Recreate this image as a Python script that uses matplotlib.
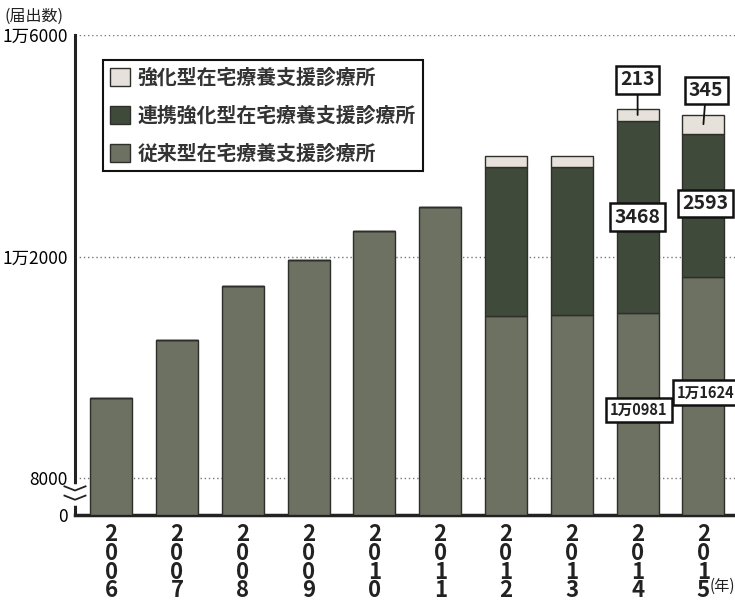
import matplotlib
matplotlib.use("Agg")
import matplotlib.pyplot as plt
from matplotlib.patches import Patch
import numpy as np

plt.rcParams['font.family'] = ['Noto Sans CJK JP', 'DejaVu Sans']

# data (届出数)
years = ['2006', '2007', '2008', '2009', '2010', '2011', '2012', '2013', '2014', '2015']
conventional = [9450, 10490, 11470, 11930, 12460, 12900, 10920, 10950, 10981, 11624]  # 従来型
renkei = [0, 0, 0, 0, 0, 0, 2690, 2660, 3468, 2593]  # 連携強化型
kyoka = [0, 0, 0, 0, 0, 0, 200, 200, 213, 345]  # 強化型
labels = ['強化型在宅療養支援診療所', '連携強化型在宅療養支援診療所', '従来型在宅療養支援診療所']
ytick_vals = [0, 8000, 12000, 16000]
ytick_labels = ['0', '8000', '1万2000', '1万6000']

c_conv = '#6c7162'
c_renkei = '#3f4a3a'
c_kyoka = '#e6e1da'
edge = '#2e2e2a'

# broken axis: 0-8000 squeezed
BRK = 8000
SQ = 668.0


def fwd(v):
    v = np.asarray(v, dtype=float)
    return np.where(v < BRK, v * SQ / BRK, v - BRK + SQ)


def inv(t):
    t = np.asarray(t, dtype=float)
    return np.where(t < SQ, t * BRK / SQ, t + BRK - SQ)


fig = plt.figure(figsize=(7.35, 6.04), dpi=100)
ax = fig.add_axes([75 / 735, 1 - 515 / 604, 1 - 75 / 735, 480 / 604])
ax.set_yscale('function', functions=(fwd, inv))
ax.set_ylim(0, 16000)
ax.set_xlim(-0.55, 9.48)

x = np.arange(len(years))
conv = np.array(conventional)
ren = np.array(renkei)
kyo = np.array(kyoka)
w = 0.64
ax.bar(x, conv, w, color=c_conv, edgecolor=edge, linewidth=1.0, zorder=3)
ax.bar(x, ren, w, bottom=conv, color=c_renkei, edgecolor=edge, linewidth=1.0, zorder=3)
ax.bar(x, kyo, w, bottom=conv + ren, color=c_kyoka, edgecolor=edge, linewidth=1.0, zorder=3)

for v in [8000, 12000, 16000]:
    ax.axhline(v, color='#777777', linestyle=(0, (1, 2)), linewidth=1.0, zorder=1)

ax.set_yticks(ytick_vals)
ax.set_yticklabels(ytick_labels, fontsize=12.5)
ax.tick_params(axis='y', length=0, pad=5)
ax.set_xticks(x)
ax.set_xticklabels(['\n'.join(y) for y in years], fontsize=16, fontweight='bold',
                   linespacing=0.76, color='#222222')
ax.tick_params(axis='x', length=0, pad=6)

for s in ['top', 'right']:
    ax.spines[s].set_visible(False)
ax.spines['left'].set_linewidth(2.2)
ax.spines['bottom'].set_linewidth(2.5)
ax.spines['left'].set_color('#222222')
ax.spines['bottom'].set_color('#222222')

# break mark on y axis
bt = ax.get_yaxis_transform()
ax.plot([0, 0], [2500, 6000], color='white', linewidth=4, transform=bt, zorder=5, clip_on=False)
for yc in [3300, 5300]:
    ax.plot([-0.016, 0, 0.016], [yc + 900, yc, yc + 900], color='#222222', linewidth=1.3,
            transform=bt, zorder=6, clip_on=False)

# callouts
box = dict(boxstyle='square,pad=0.22', facecolor='white', edgecolor='#111111', linewidth=1.8)
num_font = dict(fontsize=14, fontweight='bold', color='#222222', ha='center', va='center')
man_font = dict(num_font, fontsize=10.5)
box_m = dict(box, boxstyle='square,pad=0.3')
top14 = conv[8] + ren[8]
top15 = conv[9] + ren[9]
ax.annotate('213', xy=(8, top14 + kyo[8] / 2), xytext=(8, 15190), bbox=box, zorder=7,
            arrowprops=dict(arrowstyle='-', color='#111111', lw=1.3, shrinkA=0, shrinkB=0), **num_font)
ax.annotate('345', xy=(9, top15 + kyo[9] / 2), xytext=(9.04, 15000), bbox=box, zorder=7,
            arrowprops=dict(arrowstyle='-', color='#111111', lw=1.3, shrinkA=0, shrinkB=0), **num_font)
ax.text(8, 12710, '3468', bbox=box, zorder=7, **num_font)
ax.text(9.03, 12960, '2593', bbox=box, zorder=7, **num_font)
ax.text(8.02, 9230, '1万0981', bbox=box_m, zorder=7, **man_font)
ax.text(9.04, 9540, '1万1624', bbox=box_m, zorder=7, **man_font)

# legend
handles = [Patch(facecolor=c_kyoka, edgecolor=edge),
           Patch(facecolor=c_renkei, edgecolor=edge),
           Patch(facecolor=c_conv, edgecolor=edge)]
leg = ax.legend(handles, labels, loc='upper left', bbox_to_anchor=(0.042, 0.948),
                borderaxespad=0, prop=dict(size=14.3, weight='bold'), handlelength=1.0,
                handleheight=1.0, handletextpad=0.4, labelspacing=0.85, borderpad=0.35,
                fancybox=False, framealpha=1, edgecolor='#111111')
leg.get_frame().set_linewidth(1.5)
for t in leg.get_texts():
    t.set_color('#333333')

fig.text(5 / 735, 1 - 16 / 604, '(届出数)', fontsize=11.5, va='center', color='#222222')
fig.text(710 / 735, 1 - 586 / 604, '(年)', fontsize=11, va='center', color='#222222')

fig.savefig('out.png', dpi=100)
